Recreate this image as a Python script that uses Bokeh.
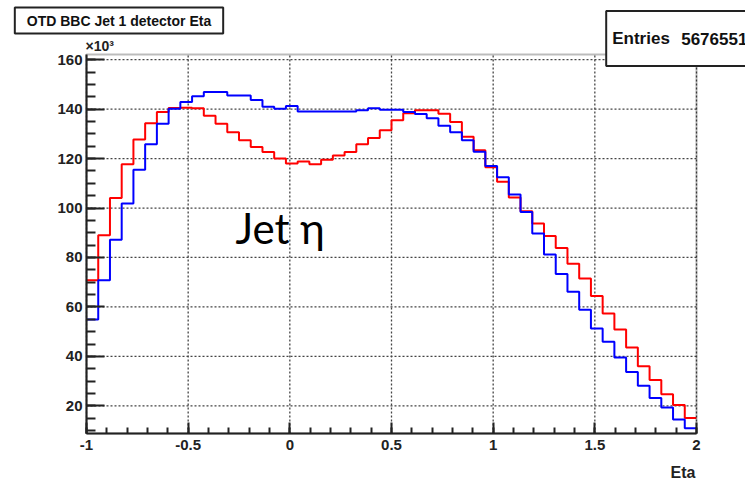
import numpy as np
from bokeh.plotting import figure
from bokeh.models import FixedTicker, Label, Range1d, BoxAnnotation
from bokeh.embed import file_html
from bokeh.resources import INLINE

# ---- data (thousands of entries per bin), eta from -1 to 2 ----
eta_min, eta_max = -1.0, 2.0
y_min, y_max = 8.8, 162.1
red_counts = [70.8, 89.0, 104.1, 117.7, 127.7, 134.3, 138.8, 140.5, 140.6, 140.4,
              137.3, 134.1, 130.7, 127.4, 124.7, 122.7, 120.0, 118.0, 118.8, 117.7,
              119.5, 121.2, 122.7, 125.8, 128.3, 131.5, 135.5, 138.3, 139.6, 139.6,
              138.1, 134.8, 128.8, 123.4, 116.5, 110.6, 104.3, 98.7, 93.7, 88.7,
              83.8, 77.5, 71.5, 64.4, 57.3, 50.9, 43.6, 36.0, 30.4, 24.7,
              20.3, 15.1]
blue_counts = [54.9, 70.8, 87.2, 101.8, 115.5, 125.8, 134.1, 140.2, 142.9, 145.2,
               146.9, 146.9, 145.5, 145.5, 143.7, 141.0, 140.2, 141.3, 139.0, 139.0,
               139.0, 139.0, 139.0, 139.5, 140.4, 139.8, 139.8, 138.8, 138.0, 136.3,
               133.3, 130.7, 127.4, 122.8, 117.0, 112.4, 105.5, 98.4, 89.7, 81.2,
               73.3, 66.1, 58.9, 51.3, 45.9, 39.5, 33.7, 28.1, 23.2, 19.3,
               14.5, 10.9]
x_ticks = [-1, -0.5, 0, 0.5, 1, 1.5, 2]
x_tick_labels = ["-1", "-0.5", "0", "0.5", "1", "1.5", "2"]
y_ticks = [20, 40, 60, 80, 100, 120, 140, 160]
title_text = "OTD BBC Jet 1 detector Eta"
entries_text = "Entries"
entries_value = "5676551"

nbins = len(red_counts)
edges = np.linspace(eta_min, eta_max, nbins + 1)

# canvas layout: frame fills the canvas, axes drawn at fixed locations
W, H = 745, 481
L, R, T, B = 86, 696, 54, 433
sx = (R - L) / (eta_max - eta_min)
sy = (B - T) / (y_max - y_min)
xr = Range1d(eta_min - L / sx, eta_max + (W - R) / sx)
yr = Range1d(y_min - (H - B) / sy, y_max + T / sy)

def px(xp):
    return xr.start + xp / sx

def py(yp):
    return yr.end - yp / sy

p = figure(width=W, height=H, output_backend="svg", toolbar_location=None,
           x_range=xr, y_range=yr, min_border=0)
p.background_fill_color = "white"
p.border_fill_color = "white"
p.outline_line_color = None
p.xgrid.visible = False
p.ygrid.visible = False

# dotted grid inside the histogram frame, at the major tick positions
grid_style = dict(line_color="#444444", line_dash="2 2", line_width=1.3)
p.segment(x0=x_ticks, x1=x_ticks, y0=[y_min] * len(x_ticks), y1=[y_max] * len(x_ticks),
          **grid_style)
p.segment(x0=[eta_min] * len(y_ticks), x1=[eta_max] * len(y_ticks), y0=y_ticks, y1=y_ticks,
          **grid_style)

# histograms as steps
p.step(edges, list(red_counts) + [red_counts[-1]], mode="after",
       line_color="#ff0000", line_width=2)
p.step(edges, list(blue_counts) + [blue_counts[-1]], mode="after",
       line_color="#0000ff", line_width=2)

# frame border
p.add_layout(BoxAnnotation(left=eta_min, right=eta_max, bottom=y_min, top=y_max,
                           fill_alpha=0, line_color="#222222", line_width=2))

# axes
p.xaxis.ticker = FixedTicker(ticks=x_ticks,
                             minor_ticks=[round(-1 + 0.1 * i, 2) for i in range(31)])
p.yaxis.ticker = FixedTicker(ticks=y_ticks, minor_ticks=list(range(10, 165, 5)))
p.xaxis.major_label_overrides = {float(t): l for t, l in zip(x_ticks, x_tick_labels)}
p.xaxis.fixed_location = y_min
p.yaxis.fixed_location = eta_min
p.xaxis.bounds = (eta_min, eta_max)
p.yaxis.bounds = (y_min, y_max)
for ax in (p.xaxis[0], p.yaxis[0]):
    ax.axis_line_color = "#222222"
    ax.axis_line_width = 2
    ax.major_tick_line_color = "#222222"
    ax.minor_tick_line_color = "#222222"
    ax.major_tick_line_width = 2
    ax.minor_tick_line_width = 2
    ax.major_tick_out = 0
    ax.minor_tick_out = 0
    ax.major_label_text_font = "Liberation Sans"
    ax.major_label_text_font_style = "bold"
    ax.major_label_text_font_size = "15px"
    ax.major_label_text_color = "#222222"
p.xaxis.major_tick_in = 11
p.xaxis.minor_tick_in = 6
p.yaxis.major_tick_in = 18
p.yaxis.minor_tick_in = 9
p.xaxis.major_label_standoff = 6
p.yaxis.major_label_standoff = 4

font = "Liberation Sans"
# title box
p.add_layout(Label(x=px(118.5), y=py(20), text=title_text, text_align="center",
                   text_baseline="middle", text_font=font, text_font_style="bold",
                   text_font_size="14px", text_color="#111111",
                   background_fill_color="white", border_line_color="#222222",
                   border_line_width=2, padding=(12, 5)))
# x10^3
p.add_layout(Label(x=px(85), y=py(45), text="×10³", text_align="left",
                   text_baseline="middle", text_font=font, text_font_style="bold",
                   text_font_size="14px", text_color="#222222"))
# stats box
p.add_layout(Label(x=px(605.7), y=py(38), text=entries_text, text_align="left",
                   text_baseline="middle", text_font=font, text_font_style="bold",
                   text_font_size="17px", text_color="#111111",
                   background_fill_color="white", border_line_color="#222222",
                   border_line_width=2, padding=(6, 200, 18, 18)))
p.add_layout(Label(x=px(680.7), y=py(38), text=entries_value, text_align="left",
                   text_baseline="middle", text_font=font, text_font_style="bold",
                   text_font_size="17px", text_color="#111111"))
# axis title
p.add_layout(Label(x=px(695), y=py(472), text="Eta", text_align="right",
                   text_baseline="alphabetic", text_font=font,
                   text_font_style="bold", text_font_size="16px", text_color="#222222"))
# annotation
p.add_layout(Label(x=px(235), y=py(227), text="Jet η", text_align="left",
                   text_baseline="alphabetic", text_font="Lato",
                   text_font_size="42px", text_color="black"))

open("out.html", "w").write(file_html(p, INLINE))
